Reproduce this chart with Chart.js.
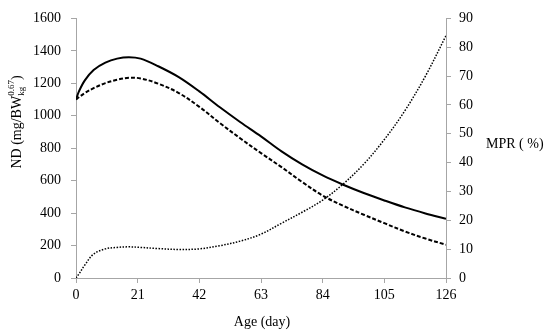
<!DOCTYPE html>
<html>
<head>
<meta charset="utf-8">
<script src="https://cdn.jsdelivr.net/npm/chart.js@4.4.1/dist/chart.umd.min.js"></script>
<style>
  html, body { margin: 0; padding: 0; background: #fff; }
  #wrap { width: 550px; height: 336px; position: relative; }
</style>
</head>
<body>
<div id="wrap"><canvas id="chart"></canvas></div>
<script>
// Idade (dias) e curvas
const ages = [0, 1, 3, 6, 10, 14, 18, 22, 28, 35, 42, 49, 56, 63, 70, 77, 84, 91, 98, 105, 112, 119, 126];
const ndSolid = [1100, 1150, 1218, 1282, 1327, 1352, 1361, 1352, 1305, 1238, 1150, 1052, 960, 873, 780, 700, 632, 575, 524, 478, 435, 398, 365];
const ndDashed = [1100, 1114, 1140, 1170, 1201, 1222, 1234, 1230, 1198, 1140, 1055, 955, 860, 770, 683, 592, 508, 445, 390, 338, 287, 243, 205];
const mpr = [0, 1.4, 4.5, 8.3, 10.1, 10.6, 10.8, 10.6, 10.2, 9.9, 10.1, 11.2, 12.8, 15.2, 19.0, 22.8, 27.0, 32.6, 39.5, 48, 58, 70, 84];

const xTicks = [0, 21, 42, 63, 84, 105, 126];

const FONT = '"Liberation Serif", "DejaVu Serif", serif';
const AXIS = '#a6a6a6';

const pts = (ys) => ages.map((x, i) => ({ x, y: ys[i] }));

// Títulos dos eixos (com sub/sobrescrito no eixo esquerdo)
const titulos = {
  id: 'titulos',
  afterDraw(chart) {
    const ctx = chart.ctx;
    ctx.save();
    ctx.fillStyle = '#000';
    ctx.textBaseline = 'alphabetic';
    ctx.font = '14px ' + FONT;

    ctx.textAlign = 'center';
    ctx.fillText('Age (day)', 262, 326);

    ctx.textAlign = 'left';
    ctx.fillText('MPR ( %)', 486, 148);

    // eixo esquerdo, girado
    const partes = [
      { t: 'ND (mg/BW', size: 14, dy: 0 },
      { t: 'kg', size: 9, dy: 3 },
      { t: '0.67', size: 9, dy: -7, back: true },
      { t: ')', size: 14, dy: 0 },
    ];
    let total = 0;
    let kgW = 0;
    for (const p of partes) {
      ctx.font = p.size + 'px ' + FONT;
      p.w = ctx.measureText(p.t).width;
      if (p.t === 'kg') kgW = p.w;
      if (!p.back) total += p.w;
      else total += Math.max(0, p.w - kgW);
    }
    ctx.translate(21, 122);
    ctx.rotate(-Math.PI / 2);
    let x = -total / 2;
    let lastStart = x;
    for (const p of partes) {
      ctx.font = p.size + 'px ' + FONT;
      if (p.back) {
        ctx.fillText(p.t, lastStart, p.dy);
        x = Math.max(x, lastStart + p.w);
      } else {
        lastStart = x;
        ctx.fillText(p.t, x, p.dy);
        x += p.w;
      }
    }
    ctx.restore();
  }
};

const tickFont = { family: FONT, size: 14 };
const eixo = {
  grid: { drawOnChartArea: false, drawTicks: true, tickLength: 5, color: AXIS },
  border: { display: true, color: AXIS, width: 1 },
};

new Chart(document.getElementById('chart'), {
  type: 'line',
  data: {
    datasets: [
      {
        label: 'ND',
        data: pts(ndSolid),
        yAxisID: 'y',
        borderColor: '#000',
        borderWidth: 2,
        pointRadius: 0,
        tension: 0.35,
      },
      {
        label: 'ND 2',
        data: pts(ndDashed),
        yAxisID: 'y',
        borderColor: '#000',
        borderWidth: 2,
        borderDash: [4, 2],
        pointRadius: 0,
        tension: 0.35,
      },
      {
        label: 'MPR',
        data: pts(mpr),
        yAxisID: 'y1',
        borderColor: '#000',
        borderWidth: 1.5,
        borderDash: [1.5, 1.5],
        pointRadius: 0,
        tension: 0.35,
      },
    ],
  },
  options: {
    responsive: true,
    maintainAspectRatio: false,
    animation: false,
    layout: { padding: { top: 13, left: 0, right: 0, bottom: 0 } },
    plugins: {
      legend: { display: false },
      tooltip: { enabled: false },
    },
    scales: {
      x: {
        ...eixo,
        type: 'linear',
        min: 0,
        max: 126,
        afterBuildTicks: (s) => { s.ticks = xTicks.map(v => ({ value: v })); },
        afterFit: (s) => { s.height = 58; },
        ticks: { color: '#000', font: tickFont, padding: 4, maxRotation: 0, callback: v => String(v) },
      },
      y: {
        ...eixo,
        position: 'left',
        min: 0,
        max: 1600,
        ticks: { stepSize: 200, color: '#000', font: tickFont, padding: 10, callback: v => String(v) },
        afterFit: (s) => { s.width = 76; },
      },
      y1: {
        ...eixo,
        position: 'right',
        min: 0,
        max: 90,
        ticks: { stepSize: 10, color: '#000', font: tickFont, padding: 8, callback: v => String(v) },
        afterFit: (s) => { s.width = 104; },
      },
    },
  },
  plugins: [titulos],
});
</script>
</body>
</html>
